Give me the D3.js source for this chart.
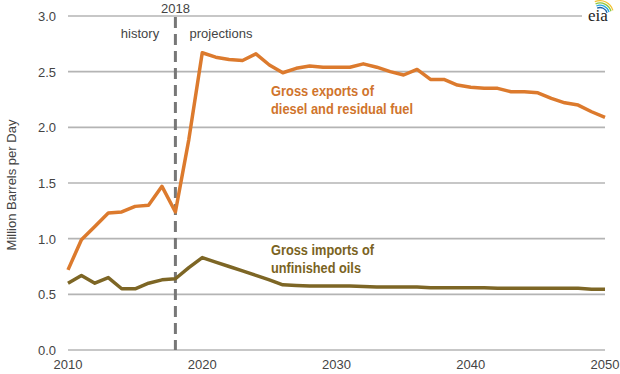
<!DOCTYPE html>
<html>

<head>
  <meta charset="utf8">
  <script src="https://d3js.org/d3.v7.min.js"></script>
  <style>
    body { margin: 0; background: #fff; }
    text { font-family: "Liberation Sans Narrow", "Arial Narrow", "Liberation Sans", Arial, sans-serif; }
    .tick-label { fill: #444; font-size: 13px; }
    .note { fill: #444; font-size: 13px; }
    .series-label { font-size: 14px; font-weight: bold; }
  </style>
</head>

<body>
  <svg id="chart" width="620" height="374"></svg>
  <script>
    var years = d3.range(2010, 2051);
    var exportsVals = [0.72, 0.99, 1.11, 1.23, 1.24, 1.29, 1.30, 1.47, 1.24, 1.89,
      2.67, 2.63, 2.61, 2.60, 2.66, 2.56, 2.49, 2.53, 2.55, 2.54,
      2.54, 2.54, 2.57, 2.54, 2.50, 2.47, 2.52, 2.43, 2.43, 2.38,
      2.36, 2.35, 2.35, 2.32, 2.32, 2.31, 2.26, 2.22, 2.20, 2.14,
      2.09];
    var importsVals = [0.60, 0.67, 0.60, 0.65, 0.55, 0.55, 0.60, 0.63, 0.64, 0.74,
      0.83, 0.79, 0.75, 0.71, 0.67, 0.63, 0.585, 0.58, 0.575, 0.575,
      0.575, 0.575, 0.57, 0.565, 0.565, 0.565, 0.565, 0.56, 0.56, 0.56,
      0.56, 0.56, 0.555, 0.555, 0.555, 0.555, 0.555, 0.555, 0.555, 0.545,
      0.545];
    var yTicks = [0, 0.5, 1.0, 1.5, 2.0, 2.5, 3.0];
    var xTicks = [2010, 2020, 2030, 2040, 2050];
    var dividerYear = 2018;

    var chart = d3.select('#chart');
    var x = d3.scaleLinear().domain([2010, 2050]).range([68, 605]);
    var y = d3.scaleLinear().domain([0, 3]).range([350, 16]);

    // gridlines
    chart.append('g').selectAll('line')
      .data(yTicks)
      .enter()
      .append('line')
      .attr('x1', 68)
      .attr('x2', (d) => d === 3 ? 582 : 605)
      .attr('y1', (d) => y(d))
      .attr('y2', (d) => y(d))
      .attr('stroke', '#b4b4b4')
      .attr('stroke-width', 1.6);

    chart.append('g').selectAll('text')
      .data(yTicks)
      .enter()
      .append('text')
      .attr('class', 'tick-label')
      .attr('x', 56)
      .attr('y', (d) => y(d) + 5)
      .attr('text-anchor', 'end')
      .text((d) => d.toFixed(1));

    chart.append('g').selectAll('text')
      .data(xTicks)
      .enter()
      .append('text')
      .attr('class', 'tick-label')
      .attr('x', (d) => x(d))
      .attr('y', 369)
      .attr('text-anchor', 'middle')
      .text((d) => d);

    chart.append('text')
      .attr('class', 'tick-label')
      .attr('transform', 'translate(16,185) rotate(-90)')
      .attr('text-anchor', 'middle')
      .attr('font-size', '12px')
      .text('Million Barrels per Day');

    // history / projections divider
    chart.append('line')
      .attr('x1', x(dividerYear))
      .attr('x2', x(dividerYear))
      .attr('y1', 17)
      .attr('y2', 350)
      .attr('stroke', '#777')
      .attr('stroke-width', 3)
      .attr('stroke-dasharray', '11,6');

    chart.append('text').attr('class', 'note')
      .attr('x', x(dividerYear)).attr('y', 13).attr('text-anchor', 'middle').text('2018');
    chart.append('text').attr('class', 'note')
      .attr('x', 140).attr('y', 38).attr('text-anchor', 'middle').text('history');
    chart.append('text').attr('class', 'note')
      .attr('x', 221).attr('y', 38).attr('text-anchor', 'middle').text('projections');

    var line = d3.line()
      .x((d, i) => x(years[i]))
      .y((d) => y(d));

    chart.append('path')
      .attr('d', line(importsVals))
      .attr('fill', 'none')
      .attr('stroke', '#7d6625')
      .attr('stroke-width', 3.5)
      .attr('stroke-linejoin', 'round');

    chart.append('path')
      .attr('d', line(exportsVals))
      .attr('fill', 'none')
      .attr('stroke', '#dc7a2d')
      .attr('stroke-width', 3.5)
      .attr('stroke-linejoin', 'round');

    var labels = [
      { text: 'Gross exports of', y: 96, w: 103, color: '#d0742c' },
      { text: 'diesel and residual fuel', y: 114, w: 142, color: '#d0742c' },
      { text: 'Gross imports of', y: 255, w: 103, color: '#7a6322' },
      { text: 'unfinished oils', y: 273, w: 90, color: '#7a6322' }
    ];
    chart.append('g').selectAll('text')
      .data(labels)
      .enter()
      .append('text')
      .attr('class', 'series-label')
      .attr('x', 271)
      .attr('y', (d) => d.y)
      .attr('fill', (d) => d.color)
      .attr('textLength', (d) => d.w)
      .attr('lengthAdjust', 'spacingAndGlyphs')
      .text((d) => d.text);

    // eia logo
    var logo = chart.append('g').attr('transform', 'translate(584,0)');
    [['#f2c230', 14], ['#8cc63f', 12], ['#29a9e0', 10], ['#1b5fa8', 8]].forEach(function (a, i) {
      logo.append('path')
        .attr('d', d3.arc()({ innerRadius: a[1] - 1.3, outerRadius: a[1], startAngle: -0.4, endAngle: 1.3 }))
        .attr('transform', 'translate(16,' + (14 + i * 0.3) + ')')
        .attr('fill', a[0]);
    });
    logo.append('text')
      .attr('x', 14)
      .attr('y', 21)
      .attr('text-anchor', 'middle')
      .attr('font-family', '"Liberation Serif", "DejaVu Serif", serif')
      .attr('font-size', '17px')
      .attr('fill', '#222')
      .style('font-family', '"Liberation Serif", serif')
      .text('eia');
  </script>
</body>

</html>
